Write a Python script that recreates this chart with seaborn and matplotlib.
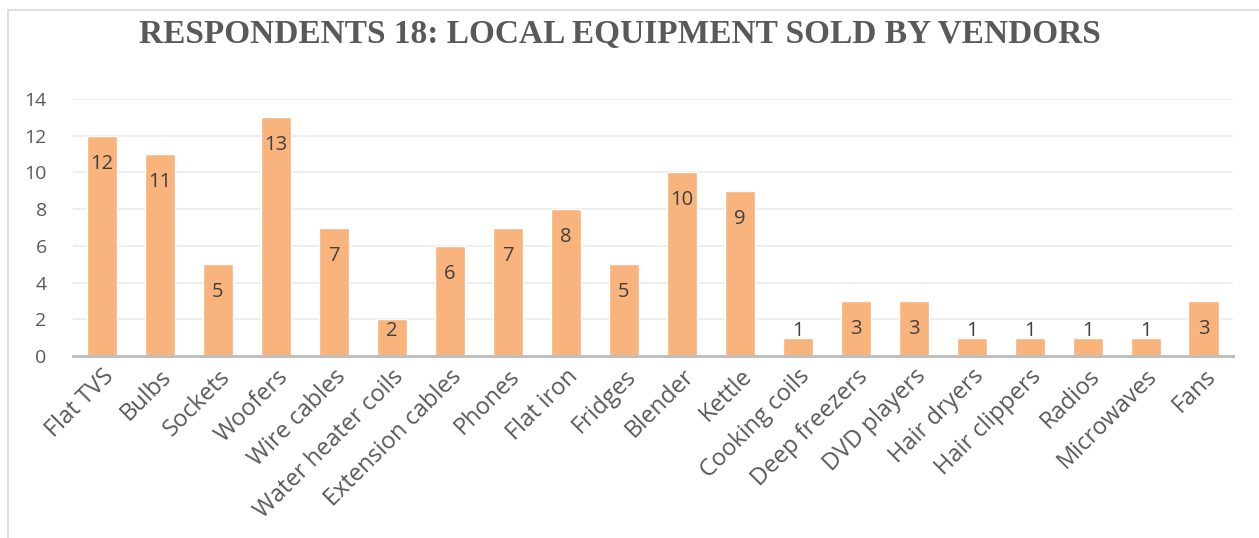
import matplotlib
matplotlib.use("Agg")
import matplotlib.pyplot as plt
import seaborn as sns
import pandas as pd
from matplotlib.patches import Rectangle

# data
items = ["Flat TVS", "Bulbs", "Sockets", "Woofers", "Wire cables",
         "Water heater coils", "Extension cables", "Phones", "Flat iron",
         "Fridges", "Blender", "Kettle", "Cooking coils", "Deep freezers",
         "DVD players", "Hair dryers", "Hair clippers", "Radios",
         "Microwaves", "Fans"]
counts = [12, 11, 5, 13, 7, 2, 6, 7, 8, 5, 10, 9, 1, 3, 3, 1, 1, 1, 1, 3]
yticks = [0, 2, 4, 6, 8, 10, 12, 14]

df = pd.DataFrame({"item": items, "count": counts})

sns.set_theme(style="white")
plt.rcParams["font.family"] = ["Open Sans", "DejaVu Sans"]

fig = plt.figure(figsize=(12.59, 5.38), dpi=100)
ax = fig.add_axes([0.058, 0.338, 0.921, 0.478])

sns.barplot(data=df, x="item", y="count", color="#F8B47C", saturation=1,
            width=0.52, ax=ax)

ax.set_ylim(0, 14)
ax.set_yticks(yticks)
ax.set_xlim(-0.5, len(items) - 0.5)

# labels at the inside end; short bars push the label up (like Excel does)
px_per_unit = ax.get_position().height * fig.get_figheight() * fig.dpi / 14
for p in ax.patches:
    h = p.get_height()
    bar_px = h * px_per_unit
    off_px = min(28, bar_px - 25)
    ax.annotate(f"{h:.0f}", xy=(p.get_x() + p.get_width() / 2, h),
                xytext=(0, -off_px * 72 / fig.dpi), textcoords="offset points",
                ha="center", va="center", fontsize=14.5, color="#404040")

ax.yaxis.grid(True, color="#EBEBEB", linewidth=1.2)
ax.set_axisbelow(True)
for s in ["top", "right", "left"]:
    ax.spines[s].set_visible(False)
ax.spines["bottom"].set_color("#BFBFBF")
ax.spines["bottom"].set_linewidth(2.2)
ax.set_xlabel("")
ax.set_ylabel("")
ax.tick_params(axis="both", length=0, colors="#595959")
ax.tick_params(axis="y", pad=19, labelsize=14)
ax.tick_params(axis="x", pad=6, labelsize=17)
plt.setp(ax.get_xticklabels(), rotation=45, ha="right",
         rotation_mode="anchor")

fig.text(0.492, 0.936, "RESPONDENTS 18: LOCAL EQUIPMENT SOLD BY VENDORS",
         ha="center", va="center", fontsize=24, fontweight="bold",
         color="#595959", family=["Liberation Serif", "DejaVu Serif"])

# chart frame (top and left edges visible in the crop)
fig.patches.append(Rectangle((8 / 1259, -0.1), 1.1, 1.1 - 10 / 538,
                             transform=fig.transFigure, fill=False,
                             edgecolor="#D9D9D9", linewidth=1.2))

fig.savefig("out.png", dpi=100)
